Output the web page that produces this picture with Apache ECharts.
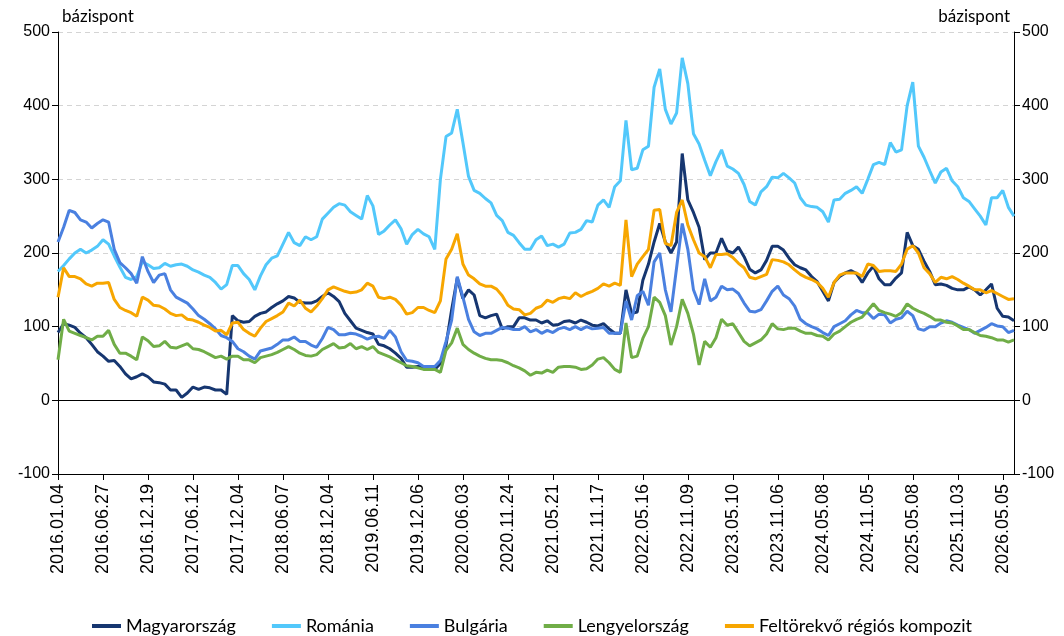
<!DOCTYPE html>
<html lang="hu">
<head>
<meta charset="utf-8">
<title>Szuverén CDS-felárak</title>
<script src="https://cdn.jsdelivr.net/npm/echarts@6/dist/echarts.min.js"></script>
<style>
  html, body { margin: 0; padding: 0; background: #fff; }
  #chart { width: 1064px; height: 636px; }
</style>
</head>
<body>
<div id="chart"></div>
<script>
// Dates printed under the horizontal axis (every 8th observation)
const tickDates = [
  '2016.01.04', '2016.06.27', '2016.12.19', '2017.06.12', '2017.12.04', '2018.06.07',
  '2018.12.04', '2019.06.11', '2019.12.06', '2020.06.03', '2020.11.24', '2021.05.21',
  '2021.11.17', '2022.05.16', '2022.11.09', '2023.05.10', '2023.11.06', '2024.05.08',
  '2024.11.05', '2025.05.08', '2025.11.03', '2026.05.05'
];
const stepsPerTick = 8;
const trailingSteps = 2;

// Spreads in basis points, one value per observation
const magyarorszag = [
  92,104,102,99,91,85,76,66,
  60,53,54,46,36,29,32,36,
  32,25,24,22,14,14,4,10,
  18,15,18,17,14,14,8,115,
  108,106,107,114,118,120,126,131,
  135,141,139,133,132,132,135,141,
  146,141,134,118,108,98,95,92,
  90,76,74,70,64,57,45,45,
  46,46,45,42,50,75,123,166,
  138,150,143,115,112,115,117,97,
  100,100,112,112,109,109,105,108,
  102,103,107,108,105,109,106,102,
  101,104,97,91,91,150,118,120,
  163,185,215,240,215,200,215,335,
  272,255,235,191,200,200,220,203,
  200,208,195,178,173,177,190,209,
  209,204,193,184,180,177,168,161,
  148,135,160,168,173,176,172,160,
  173,182,165,157,157,166,173,228,
  210,205,189,175,157,158,156,152,
  150,150,154,150,143,150,158,125,
  114,113,108
];
const romania = [
  175,183,192,200,205,200,204,209,
  218,212,196,181,167,164,168,188,
  184,179,180,186,182,184,185,182,
  177,174,170,167,160,151,157,183,
  183,172,164,150,169,184,193,196,
  212,228,214,210,222,218,222,246,
  254,262,267,265,256,251,246,278,
  264,225,230,238,245,233,212,225,
  232,226,222,205,300,358,363,395,
  350,304,285,281,274,268,251,244,
  228,224,214,205,205,218,223,210,
  212,208,212,227,228,232,244,242,
  265,272,262,290,298,380,313,315,
  340,345,425,450,395,375,390,465,
  430,362,348,326,305,324,340,318,
  314,308,293,270,265,283,290,303,
  302,308,302,295,275,265,263,262,
  256,242,272,273,281,285,290,281,
  300,320,323,320,350,337,340,400,
  432,345,330,312,295,310,315,298,
  290,275,270,260,250,238,275,275,
  285,262,250
];
const bulgaria = [
  215,235,258,255,245,242,234,240,
  245,242,205,187,180,172,159,195,
  175,160,170,172,150,140,136,132,
  124,115,110,104,97,88,85,80,
  70,66,60,56,67,69,71,76,
  82,82,86,80,80,75,72,84,
  99,96,89,89,91,90,87,83,
  86,87,84,95,86,66,54,53,
  51,46,46,46,54,80,109,168,
  140,110,93,88,91,91,95,99,
  98,96,96,100,93,96,91,95,
  92,97,99,96,100,96,100,97,
  98,99,91,91,91,135,109,142,
  148,129,188,200,150,120,180,240,
  205,150,130,165,135,140,155,150,
  151,145,132,121,120,123,135,148,
  155,143,138,128,110,104,100,97,
  92,88,100,104,108,116,122,119,
  119,111,117,116,105,110,112,121,
  115,97,95,100,100,105,108,106,
  102,99,96,91,95,99,104,101,
  100,92,95
];
const lengyelorszag = [
  55,110,94,91,88,85,82,87,
  87,95,76,64,64,60,55,86,
  81,73,74,80,72,71,74,77,
  70,69,66,62,58,60,56,60,
  60,55,55,51,58,60,62,65,
  69,73,69,64,61,60,62,69,
  73,77,71,72,77,70,73,69,
  73,65,62,59,55,51,47,46,
  44,42,42,42,38,68,78,98,
  76,69,64,60,57,55,55,54,
  51,47,44,40,34,38,37,41,
  38,45,46,46,45,42,43,48,
  56,58,51,42,38,105,58,60,
  84,100,140,133,115,75,100,137,
  118,90,48,80,72,85,110,102,
  104,92,80,74,78,82,90,104,
  97,96,98,98,94,91,91,88,
  87,82,90,94,100,106,110,113,
  122,131,122,119,117,114,119,131,
  125,121,118,114,109,109,106,105,
  101,96,96,92,88,87,85,82,
  82,79,82
];
const kompozit = [
  140,180,168,168,165,158,155,159,
  159,160,137,126,122,119,114,140,
  136,129,128,124,118,115,116,110,
  109,106,102,99,94,95,89,105,
  106,96,91,87,98,107,111,115,
  120,132,128,136,125,120,128,138,
  150,154,151,148,146,147,150,159,
  155,140,138,140,137,129,117,119,
  126,126,122,119,135,192,205,226,
  185,170,165,158,155,155,151,142,
  129,124,123,116,118,125,128,136,
  133,138,140,138,146,141,145,148,
  152,158,155,159,156,245,168,185,
  195,205,258,259,213,210,255,272,
  238,218,200,195,180,198,198,199,
  194,186,180,167,165,168,171,191,
  190,188,184,177,171,167,164,160,
  152,140,160,170,173,173,173,168,
  185,183,175,176,176,175,185,205,
  210,200,180,172,160,167,165,168,
  164,159,155,150,150,146,149,145,
  141,137,138
];

const seriesNames = ['Magyarország', 'Románia', 'Bulgária', 'Lengyelország', 'Feltörekvő régiós kompozit'];
const seriesColors = ['#163670', '#52c8fb', '#4a80e0', '#70ad47', '#f7a600'];
const seriesData = [magyarorszag, romania, bulgaria, lengyelorszag, kompozit];

// Observation dates between the printed ones
function parseDate(s) {
  const p = s.split('.').map(Number);
  return Date.UTC(p[0], p[1] - 1, p[2]);
}
function fmtDate(t) {
  const d = new Date(t);
  const mm = String(d.getUTCMonth() + 1).padStart(2, '0');
  const dd = String(d.getUTCDate()).padStart(2, '0');
  return d.getUTCFullYear() + '.' + mm + '.' + dd;
}
const categories = [];
for (let k = 0; k < tickDates.length - 1; k++) {
  const a = parseDate(tickDates[k]);
  const b = parseDate(tickDates[k + 1]);
  categories.push(tickDates[k]);
  for (let j = 1; j < stepsPerTick; j++) {
    categories.push(fmtDate(a + (b - a) * j / stepsPerTick));
  }
}
categories.push(tickDates[tickDates.length - 1]);
{
  const a = parseDate(tickDates[tickDates.length - 2]);
  const b = parseDate(tickDates[tickDates.length - 1]);
  for (let j = 1; j <= trailingSteps; j++) {
    categories.push(fmtDate(b + (b - a) * j / stepsPerTick));
  }
}

const axisFont = 'Liberation Sans, Arial, sans-serif';
const textFont = 'Lato, Open Sans, sans-serif';

const yAxisCommon = {
  type: 'value',
  min: -100,
  max: 500,
  interval: 100,
  name: 'bázispont',
  nameLocation: 'end',
  nameGap: 7,
  axisLine: { show: true, lineStyle: { color: '#000', width: 1 } },
  axisTick: { show: true, inside: false, length: 6, lineStyle: { color: '#000' } },
  axisLabel: { color: '#000', fontSize: 16, fontFamily: axisFont, margin: 8 }
};

const chart = echarts.init(document.getElementById('chart'), null, { renderer: 'canvas' });
chart.setOption({
  animation: false,
  backgroundColor: '#fff',
  grid: { left: 58, right: 50, top: 32, bottom: 162, containLabel: false },
  legend: {
    data: seriesNames,
    top: 612,
    left: 'center',
    icon: 'rect',
    itemWidth: 29,
    itemHeight: 4,
    itemGap: 36,
    textStyle: { color: '#000', fontSize: 18, fontFamily: textFont }
  },
  xAxis: {
    type: 'category',
    data: categories,
    boundaryGap: false,
    axisLine: { show: true, onZero: false, lineStyle: { color: '#000', width: 1 } },
    axisTick: { show: true, interval: stepsPerTick - 1, length: 6, lineStyle: { color: '#000' } },
    axisLabel: {
      interval: stepsPerTick - 1,
      rotate: 90,
      color: '#000',
      fontSize: 18,
      fontFamily: axisFont,
      margin: 10
    },
    splitLine: { show: false }
  },
  yAxis: [
    Object.assign({}, yAxisCommon, {
      position: 'left',
      nameTextStyle: { align: 'left', color: '#000', fontSize: 17, fontFamily: textFont, padding: [0, 0, 0, 4] },
      splitLine: { show: true, lineStyle: { color: '#d4d4d4', type: [5, 4], width: 1 } }
    }),
    Object.assign({}, yAxisCommon, {
      position: 'right',
      nameTextStyle: { align: 'right', color: '#000', fontSize: 17, fontFamily: textFont, padding: [0, 4, 0, 0] },
      splitLine: { show: false }
    })
  ],
  series: seriesNames.map((name, idx) => {
    const s = {
      name: name,
      type: 'line',
      data: seriesData[idx],
      yAxisIndex: 0,
      showSymbol: false,
      symbol: 'none',
      color: seriesColors[idx],
      lineStyle: { width: 3, color: seriesColors[idx] },
      z: 2 + idx
    };
    if (idx === 0) {
      s.markLine = {
        silent: true,
        symbol: 'none',
        label: { show: false },
        lineStyle: { color: '#000', width: 1, type: 'solid' },
        data: [{ yAxis: 0 }],
        z: 1
      };
    }
    return s;
  })
});
</script>
</body>
</html>
